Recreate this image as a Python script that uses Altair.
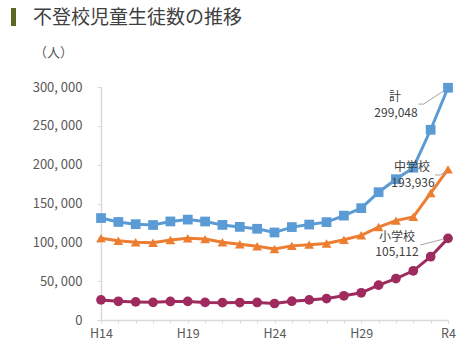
import altair as alt
import pandas as pd

FONT = "Noto Sans CJK JP"

years = ["H14", "H15", "H16", "H17", "H18", "H19", "H20", "H21", "H22", "H23",
         "H24", "H25", "H26", "H27", "H28", "H29", "H30", "R1", "R2", "R3", "R4"]
total = [131252, 126226, 123358, 122287, 126894, 129255, 126805, 122432, 119891, 117458,
         112689, 119617, 122897, 125991, 134386, 144031, 164528, 181272, 196127, 244940, 299048]
junior = [105383, 102149, 100040, 99578, 103069, 105328, 104153, 100105, 97428, 94836,
          91446, 95442, 97033, 98408, 103235, 108999, 119687, 127922, 132777, 163442, 193936]
elementary = [25869, 24077, 23318, 22709, 23825, 23927, 22652, 22327, 22463, 22622,
              21243, 24175, 25864, 27583, 31151, 35032, 44841, 53350, 63350, 81498, 105112]

series_names = ["計", "中学校", "小学校"]
series_colors = ["#5B9BD5", "#ED7D31", "#9E2A5E"]
series_shapes = ["square", "triangle-up", "circle"]

title_text = "不登校児童生徒数の推移"
unit_text = "（人）"

# annotation texts and their positions in data space
ann_text = ["計", "299,048", "中学校", "193,936", "小学校", "105,112"]
ann_x = [16.95, 17.0, 17.93, 17.98, 17.06, 17.06]
ann_y = [287500, 266500, 197500, 176400, 107200, 87500]

# leader lines
lead_group = ["a", "a", "a", "b", "b", "b", "c", "c"]
lead_x = [18.3, 18.6, 19.75, 19.25, 19.55, 19.88, 18.4, 19.7]
lead_y = [278000, 278000, 295000, 186700, 186700, 191500, 96500, 104000]

rows = []
for name, vals in zip(series_names, [total, junior, elementary]):
    for i, v in enumerate(vals):
        rows.append({"idx": i, "year": years[i], "value": v, "series": name})
df = pd.DataFrame(rows)

label_expr = "[" + ",".join("'" + y + "'" for y in years) + "]"
x_enc = alt.X(
    "idx:Q",
    scale=alt.Scale(domain=[0, len(years) - 1], nice=False, zero=False),
    axis=alt.Axis(
        values=list(range(len(years))),
        labelExpr=f"datum.value % 5 == 0 ? {label_expr}[datum.value] : ''",
        title=None, grid=False, domainColor="#d9d9d9", domainWidth=1.5,
        tickColor="#d9d9d9", tickSize=3, labelColor="#595959", labelFontSize=12.5,
        labelFont=FONT, labelPadding=4, labelFlush=False, labelOverlap=False,
    ),
)
y_enc = alt.Y(
    "value:Q",
    scale=alt.Scale(domain=[0, 300000], nice=False),
    axis=alt.Axis(
        values=[0, 50000, 100000, 150000, 200000, 250000, 300000],
        labelExpr="replace(format(datum.value, ','), ',', ', ')",
        title=unit_text, titleAngle=0, titleX=-48, titleY=-35, titleAlign="center",
        titleBaseline="middle", titleFont=FONT, titleFontSize=13, titleFontWeight="normal",
        titleColor="#595959",
        grid=False, domainColor="#d9d9d9", domainWidth=1.5, tickColor="#d9d9d9",
        tickSize=4, labelPadding=15, labelColor="#595959", labelFontSize=13, labelFont=FONT,
        labelOverlap=False,
    ),
)
color_enc = alt.Color("series:N", scale=alt.Scale(domain=series_names, range=series_colors), legend=None)
shape_enc = alt.Shape("series:N", scale=alt.Scale(domain=series_names, range=series_shapes), legend=None)

base = alt.Chart(df)
lines = base.mark_line(strokeWidth=3).encode(x=x_enc, y=y_enc, color=color_enc, detail="series:N")
points = base.mark_point(filled=True, size=95, opacity=1).encode(
    x=x_enc, y=y_enc, color=color_enc, shape=shape_enc
)

ann_df = pd.DataFrame({"idx": ann_x, "value": ann_y, "t": ann_text})
ann = alt.Chart(ann_df).mark_text(font=FONT, fontSize=12, color="#404040", align="center", baseline="middle").encode(
    x=x_enc, y=y_enc, text="t:N"
)
lead_df = pd.DataFrame({"g": lead_group, "idx": lead_x, "value": lead_y})
leads = alt.Chart(lead_df).mark_line(color="#a6a6a6", strokeWidth=1).encode(
    x=x_enc, y=y_enc, detail="g:N"
)

title_df = pd.DataFrame({"t": [title_text]})
title = alt.Chart(title_df).mark_text(
    font=FONT, fontSize=19, color="#404040", align="left", baseline="middle"
).encode(x=alt.value(-68), y=alt.value(-69), text="t:N")
bar = alt.Chart(title_df).mark_rule(color="#5d6623", strokeWidth=5).encode(
    x=alt.value(-87.5), y=alt.value(-79), y2=alt.value(-61)
)

chart = alt.layer(lines, points, leads, ann, title, bar).properties(
    width=347, height=233,
    padding={"left": 101, "top": 87, "right": 28, "bottom": 24},
    autosize="none",
    background="white",
).configure_view(stroke=None).configure_axis(labelOverlap=False)

chart.save("out.html", embed_options={"renderer": "svg", "actions": False})
